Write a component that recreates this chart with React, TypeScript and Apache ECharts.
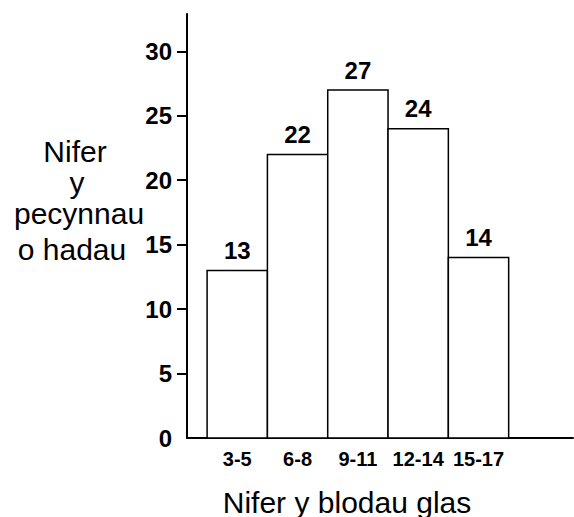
import React, { useEffect, useRef } from "react";
import * as echarts from "echarts";

const categories = ["3-5", "6-8", "9-11", "12-14", "15-17"];
const binStart = [3, 6, 9, 12, 15];
const binEnd = [5, 8, 11, 14, 17];
const counts = [13, 22, 27, 24, 14];
const yTicks = [0, 5, 10, 15, 20, 25, 30];
const yNameLines = ["Nifer", "y", "pecynnau", "o hadau"];
const xName = "Nifer y blodau glas";

const FONT = "'Liberation Sans', Arial, Helvetica, sans-serif";

export default function App() {
  const ref = useRef<HTMLDivElement>(null);
  useEffect(() => {
    if (!ref.current) return;
    const chart = echarts.init(ref.current, undefined, { renderer: "svg" });
    const data = counts.map((c, i) => [binStart[i] - 0.5, binEnd[i] + 0.5, c]);
    const centers = binStart.map((s, i) => (s + binEnd[i]) / 2);
    const yNameX = [75, 77, 79, 72];
    const yNameY = [151, 182, 213, 249];
    const option: any = {
      animation: false,
      backgroundColor: "#fff",
      grid: { left: 187, right: 1, top: 14, bottom: 79 },
      xAxis: {
        type: "value",
        min: 1.5,
        max: 20.7,
        splitLine: { show: false },
        axisTick: { show: false },
        axisLine: { show: true, onZero: false, lineStyle: { color: "#000", width: 2 } },
        axisLabel: {
          customValues: centers,
          margin: 11,
          color: "#000",
          fontSize: 20,
          fontWeight: "bold",
          fontFamily: FONT,
          formatter: (v: number) => {
            const i = centers.indexOf(v);
            return i >= 0 ? categories[i] : "";
          },
        },
      },
      yAxis: {
        type: "value",
        min: 0,
        max: 32.9,
        splitLine: { show: false },
        axisLine: { show: true, onZero: false, lineStyle: { color: "#000", width: 2 } },
        axisTick: {
          show: true,
          length: 10,
          customValues: yTicks.filter((t) => t > 0),
          lineStyle: { color: "#000", width: 2 },
        },
        axisLabel: {
          customValues: yTicks,
          margin: 15,
          color: "#000",
          fontSize: 24,
          fontWeight: "bold",
          fontFamily: FONT,
        },
      },
      series: [
        {
          type: "custom",
          clip: false,
          data,
          encode: { x: [0, 1], y: 2 },
          renderItem: (params: any, api: any) => {
            const p0 = api.coord([api.value(0), 0]);
            const p1 = api.coord([api.value(1), api.value(2)]);
            return {
              type: "group",
              children: [
                {
                  type: "rect",
                  shape: { x: p0[0], y: p1[1], width: p1[0] - p0[0], height: p0[1] - p1[1] },
                  style: { fill: "#fff", stroke: "#000", lineWidth: 1.5 },
                },
                {
                  type: "text",
                  style: {
                    text: String(api.value(2)),
                    x: (p0[0] + p1[0]) / 2,
                    y: p1[1] - 20,
                    textAlign: "center",
                    textVerticalAlign: "middle",
                    fontSize: 24,
                    fontWeight: "bold",
                    fontFamily: FONT,
                    fill: "#000",
                  },
                },
              ],
            };
          },
        },
      ],
      graphic: [
        ...yNameLines.map((t, i) => ({
          type: "text",
          x: yNameX[i],
          y: yNameY[i],
          style: {
            text: t,
            textAlign: "center",
            textVerticalAlign: "middle",
            fontSize: 30,
            fontFamily: FONT,
            fill: "#000",
          },
        })),
        {
          type: "text",
          x: 347,
          y: 502,
          style: {
            text: xName,
            textAlign: "center",
            textVerticalAlign: "middle",
            fontSize: 30,
            fontFamily: FONT,
            fill: "#000",
          },
        },
      ],
    };
    chart.setOption(option);
    return () => chart.dispose();
  }, []);
  return (
    <div
      ref={ref}
      style={{ position: "fixed", left: 0, top: 0, width: 574, height: 517, background: "#fff" }}
    />
  );
}
